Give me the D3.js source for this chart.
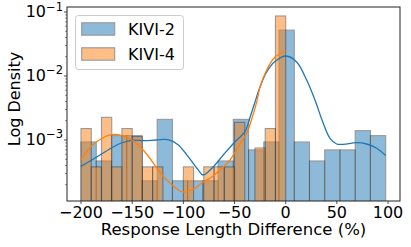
<!DOCTYPE html>
<html><head><meta charset="utf-8">
<script src="https://cdn.jsdelivr.net/npm/d3@7/dist/d3.min.js"></script>
<style>
body{margin:0;background:#fff;}
svg{display:block;}
text{font-family:"DejaVu Sans",sans-serif;fill:#000;}
</style>
</head><body>
<svg id="chart" width="411" height="247"></svg>
<script>
// ---------- data ----------
const seriesNames = ["KIVI-2", "KIVI-4"];
const seriesColors = ["#1f77b4", "#ff7f0e"];
// histogram bin ranges (evenly split into bins)
const kivi2Range = [-200, 97.7];
const kivi4Range = [-200, 0];
// bar densities per bin
const kivi2Density = [9.3e-4, 4.7e-4, 1.17e-3, 1.17e-3, 2.3e-4, 2.1e-3, 2.3e-4, 2.3e-4, 2.3e-4, 4.7e-4,
                      2.1e-3, 7.0e-4, 9.3e-4, 0.052, 9.3e-4, 4.7e-4, 7.0e-4, 7.0e-4, 1.4e-3, 1.17e-3];
const kivi4Density = [1.51e-3, 3.8e-4, 2.26e-3, 3.8e-4, 1.51e-3, 1.13e-3, 3.8e-4, 3.8e-4, 0, 0,
                      3.8e-4, 0, 3.8e-4, 3.8e-4, 3.8e-4, 1.89e-3, 0, 7.5e-4, 1.51e-3, 0.0866];
// KDE curves
const kivi2KdeX = [-200, -185.1, -170.4, -160.6, -150.9, -137.8, -126.7, -115.0, -105.2, -95.5, -85.7, -80.8,
                   -70.7, -61.0, -49.5, -39.8, -34.9, -30.0, -25.1, -18.6, -10.5, 0.3, 10.7, 20.5, 28.6,
                   36.7, 43.3, 49.8, 56.3, 69.4, 79.1, 88.9, 97.7];
const kivi2KdeY = [3.88e-4, 5.37e-4, 7.50e-4, 8.98e-4, 9.89e-4, 9.75e-4, 1.0e-3, 1.011e-3, 8.45e-4, 5.56e-4, 3.44e-4, 2.84e-4,
                   3.83e-4, 5.83e-4, 9.41e-4, 1.348e-3, 2.247e-3, 3.93e-3, 6.73e-3, 1.155e-2, 1.685e-2, 2.054e-2, 1.655e-2, 8.66e-3, 4.22e-3,
                   1.824e-3, 1.063e-3, 8.66e-4, 8.57e-4, 9.07e-4, 8.66e-4, 7.42e-4, 5.72e-4];
const kivi4KdeX = [-200, -189.9, -180.2, -170.4, -160.6, -150.9, -141.1, -132.9, -124.8, -115.0, -105.2, -100.3,
                   -90.6, -80.8, -74.0, -64.2, -54.4, -46.3, -38.1, -33.2, -28.3, -25.1, -18.6, -10.5, 0];
const kivi4KdeY = [4.92e-4, 7.97e-4, 1.048e-3, 1.21e-3, 1.184e-3, 1.011e-3, 7.50e-4, 5.23e-4, 3.44e-4, 2.26e-4, 1.673e-4, 1.54e-4,
                   1.673e-4, 2.21e-4, 2.52e-4, 3.40e-4, 4.87e-4, 7.86e-4, 1.273e-3, 2.13e-3, 3.93e-3, 6.73e-3, 1.241e-2, 1.98e-2, 2.46e-2];
// axes
const xTicks = [-200, -150, -100, -50, 0, 50, 100];
const yTickExps = [-3, -2, -1];
const xDomain = [-213.7, 111.7];
const yDomain = [1.114e-4, 0.1197];
const xLabel = "Response Length Difference (%)";
const yLabel = "Log Density";

// ---------- layout ----------
const M = {left: 67, top: 7, right: 400, bottom: 201};
const svg = d3.select("#chart");
const x = d3.scaleLinear().domain(xDomain).range([M.left, M.right]);
const y = d3.scaleLog().domain(yDomain).range([M.bottom, M.top]);

svg.append("defs").append("clipPath").attr("id", "clip")
  .append("rect").attr("x", M.left).attr("y", M.top)
  .attr("width", M.right - M.left).attr("height", M.bottom - M.top);

const plot = svg.append("g").attr("clip-path", "url(#clip)");

function bins(range, dens) {
  const n = dens.length, w = (range[1] - range[0]) / n;
  return dens.map((d, i) => ({x0: range[0] + i * w, x1: range[0] + (i + 1) * w, d}));
}
const histData = [bins(kivi2Range, kivi2Density), bins(kivi4Range, kivi4Density)];

histData.forEach((bs, si) => {
  plot.append("g").selectAll("rect").data(bs.filter(b => b.d > 0)).join("rect")
    .attr("x", b => x(b.x0))
    .attr("width", b => x(b.x1) - x(b.x0))
    .attr("y", b => y(b.d))
    .attr("height", b => M.bottom + 2 - y(b.d))
    .attr("fill", seriesColors[si])
    .attr("stroke", "#333")
    .attr("stroke-width", 1.1)
    .attr("opacity", 0.5);
});

const kdes = [[kivi2KdeX, kivi2KdeY], [kivi4KdeX, kivi4KdeY]];
kdes.forEach(([xs, ys], si) => {
  const line = d3.line().x(i => x(xs[i])).y(i => y(ys[i])).curve(d3.curveCatmullRom.alpha(0.5));
  plot.append("path").attr("d", line(d3.range(xs.length)))
    .attr("fill", "none").attr("stroke", seriesColors[si]).attr("stroke-width", 1.3);
});

// spines
svg.append("rect").attr("x", M.left).attr("y", M.top)
  .attr("width", M.right - M.left).attr("height", M.bottom - M.top)
  .attr("fill", "none").attr("stroke", "#222").attr("stroke-width", 1);

// x axis
const xa = svg.append("g");
xTicks.forEach(t => {
  xa.append("line").attr("x1", x(t)).attr("x2", x(t)).attr("y1", M.bottom).attr("y2", M.bottom + 3)
    .attr("stroke", "#222").attr("stroke-width", 0.8);
  xa.append("text").attr("x", x(t)).attr("y", 217.5).attr("text-anchor", "middle")
    .style("font-size", "16px").text(String(t).replace("-", "\u2212"));
});
svg.append("text").attr("x", (M.left + M.right) / 2).attr("y", 235).attr("text-anchor", "middle")
  .style("font-size", "16.5px").text(xLabel);

// y axis
const ya = svg.append("g");
yTickExps.forEach(e => {
  const v = Math.pow(10, e);
  ya.append("line").attr("x1", M.left - 3).attr("x2", M.left).attr("y1", y(v)).attr("y2", y(v))
    .attr("stroke", "#222").attr("stroke-width", 0.8);
  const t = ya.append("text").attr("x", M.left - 4).attr("y", y(v) + 5.5).attr("text-anchor", "end")
    .style("font-size", "16px");
  t.append("tspan").text("10");
  t.append("tspan").attr("dy", -7).style("font-size", "11.5px").text("\u2212" + Math.abs(e));
});
// minor ticks
for (let e = -4; e <= -1; e++) {
  for (let k = 2; k <= 9; k++) {
    const v = k * Math.pow(10, e);
    if (v < yDomain[0] || v > yDomain[1]) continue;
    ya.append("line").attr("x1", M.left - 1.8).attr("x2", M.left).attr("y1", y(v)).attr("y2", y(v))
      .attr("stroke", "#222").attr("stroke-width", 0.6);
  }
}
svg.append("text").attr("transform", "translate(20,99) rotate(-90)")
  .attr("text-anchor", "middle").style("font-size", "16px").text(yLabel);

// legend
const lg = svg.append("g");
lg.append("rect").attr("x", 75.5).attr("y", 15.5).attr("width", 108).attr("height", 54).attr("rx", 3)
  .attr("fill", "#fff").attr("fill-opacity", 0.8).attr("stroke", "#ccc").attr("stroke-width", 1);
seriesNames.forEach((name, i) => {
  const cy = 29 + i * 25;
  lg.append("rect").attr("x", 81.7).attr("y", cy - 6.2).attr("width", 33).attr("height", 12.4)
    .attr("fill", seriesColors[i]).attr("stroke", "#333").attr("stroke-width", 1.1).attr("opacity", 0.5);
  lg.append("text").attr("x", 128).attr("y", cy + 5.8).style("font-size", "16px").text(name);
});
</script>
</body></html>
